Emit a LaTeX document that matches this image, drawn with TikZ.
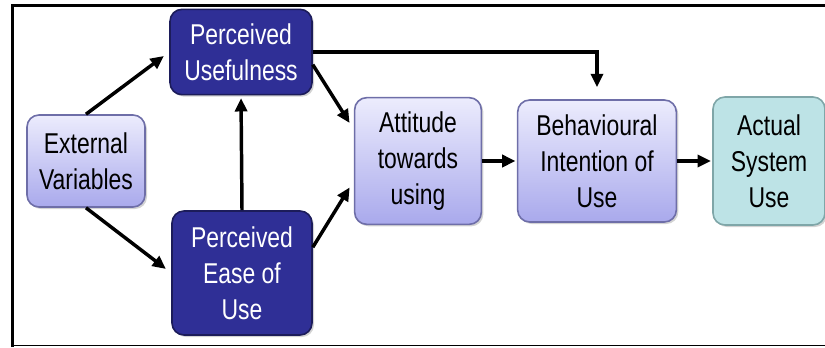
\documentclass[tikz,border=0pt]{standalone}
\usepackage{fontspec}
\setmainfont{Liberation Sans}[FakeStretch=0.8]
\usepackage{xcolor}
\usetikzlibrary{arrows.meta,shadows}
\definecolor{navy}{HTML}{2F2F96}
\definecolor{navyline}{HTML}{1C1C5A}
\definecolor{lavtop}{HTML}{ECECFD}
\definecolor{lavbot}{HTML}{A9A9EC}
\definecolor{lavline}{HTML}{6E6EA8}
\definecolor{teal}{HTML}{BDE3E6}
\definecolor{tealline}{HTML}{7FA6A8}

\tikzset{
  box/.style={rounded corners=9pt, line width=1.2pt, align=center, inner sep=0pt,
    font=\fontsize{21.5}{27}\selectfont,
    drop shadow={opacity=0.35, shadow xshift=1.5pt, shadow yshift=-1.5pt}},
  lightbox/.style={box, draw=lavline, top color=lavtop, bottom color=lavbot},
  darkbox/.style={box, draw=navyline, fill=navy, text=white},
  endbox/.style={box, draw=tealline, fill=teal},
  flow/.style={line width=2.6pt, -{Triangle[length=10pt,width=9pt]}}
}

\begin{document}
\begin{tikzpicture}[x=0.75pt,y=0.75pt,yscale=-1,xscale=1]
		\useasboundingbox (0,0) rectangle (825,347);
		% frame
		\draw [line width=2.3pt] (12.5,347) -- (12.5,5.5) -- (825,5.5) ;
		\draw [line width=1.2pt] (12.5,345.5) -- (825,345.5) ;
		% boxes
		\node [lightbox, minimum width=88.5pt, minimum height=69pt] (ev) at (86,161) {External\\Variables};
		\node [darkbox, minimum width=106.5pt, minimum height=64pt] (pu) at (241,52) {Perceived\\Usefulness};
		\node [darkbox, minimum width=105pt, minimum height=93pt] (pe) at (242,273) {Perceived\\Ease of\\Use};
		\node [lightbox, minimum width=95pt, minimum height=95pt] (at) at (418,161) {Attitude\\towards\\using};
		\node [lightbox, minimum width=119pt, minimum height=91.5pt] (bi) at (597,161) {Behavioural\\Intention of\\Use};
		\node [endbox, minimum width=84pt, minimum height=96pt] (as) at (769,161) {Actual\\System\\Use};
		% arrows
		\draw [flow, shorten >=5pt] (ev.north) -- (pu.west) ;
		\draw [flow, shorten >=5pt] (ev.south) -- (pe.west) ;
		\draw [flow, shorten >=2pt] (pe.north) -- (pu.south) ;
		\draw [flow, shorten >=6pt] (pu.-10) -- (at.154) ;
		\draw [flow, shorten >=6pt] (pe.20) -- (at.197) ;
		\draw [flow, shorten >=9pt] (pu.east) -| (bi.north) ;
		\draw [flow, shorten >=1pt] (at.east) -- (bi.west) ;
		\draw [flow, shorten >=1pt] (bi.east) -- (as.west) ;
		\end{tikzpicture}
\end{document}
